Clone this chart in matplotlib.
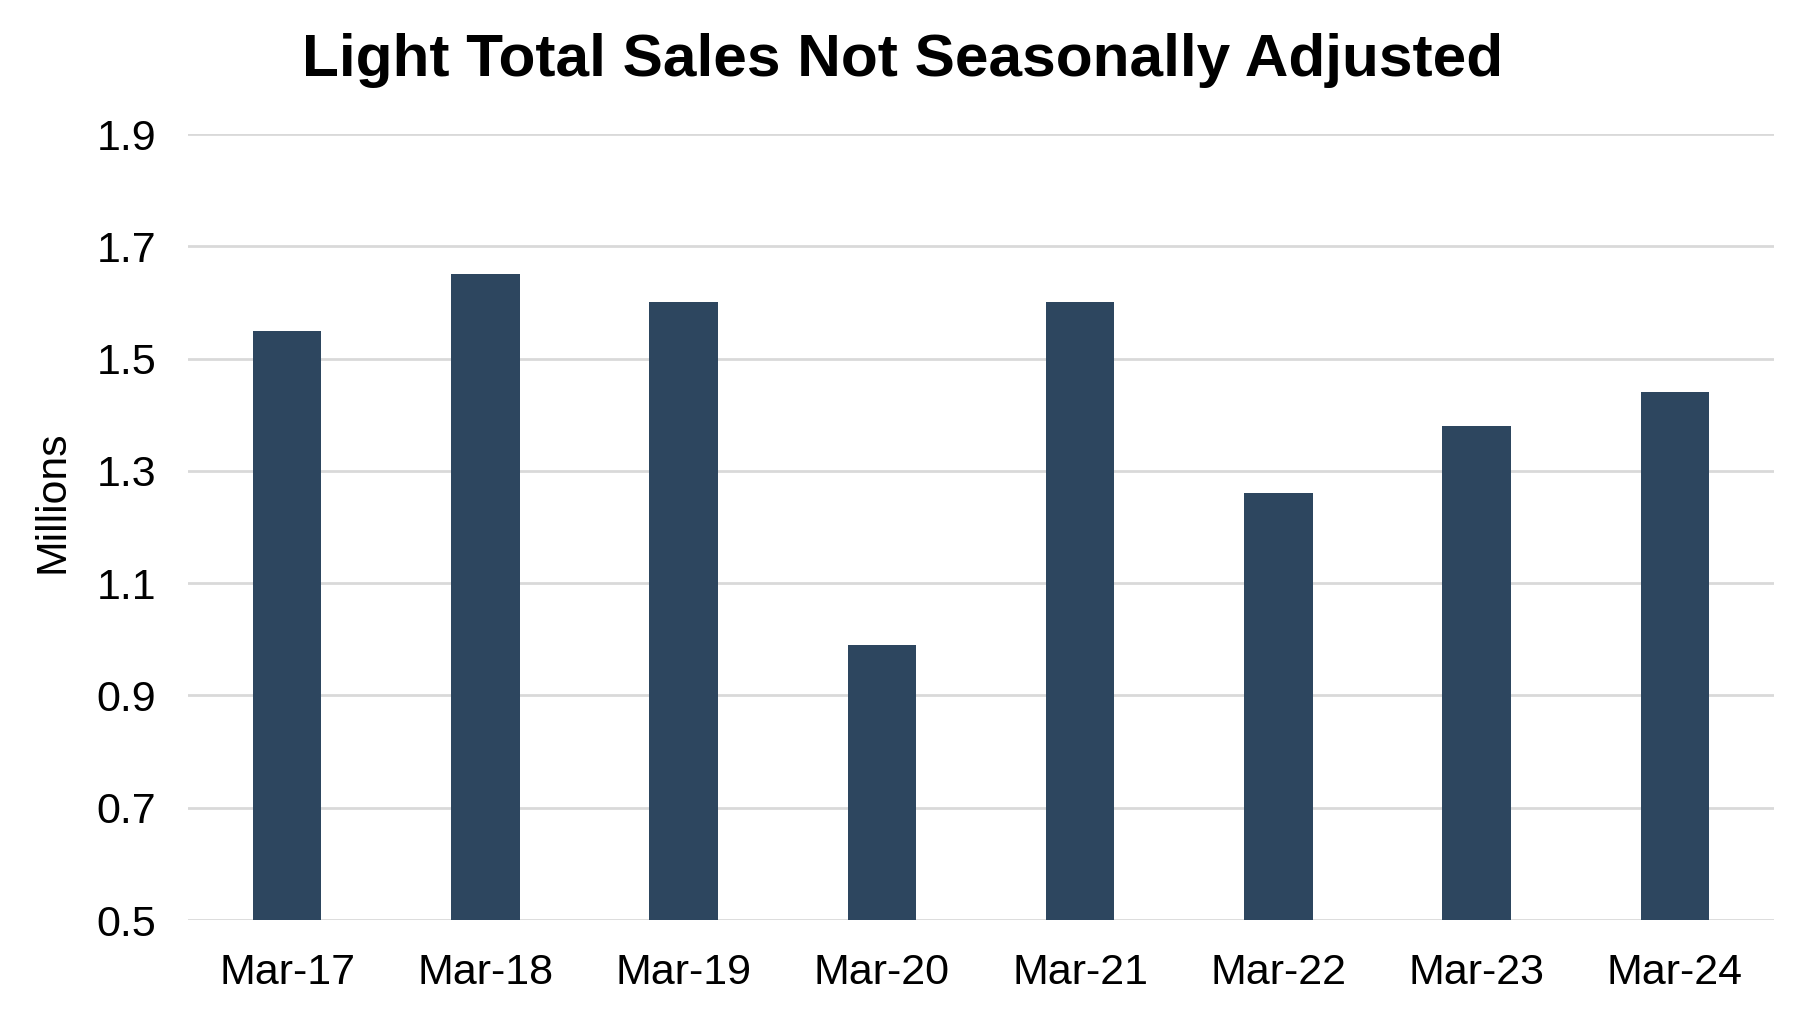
import matplotlib
matplotlib.use("Agg")
import matplotlib.pyplot as plt

categories = ["Mar-17", "Mar-18", "Mar-19", "Mar-20", "Mar-21", "Mar-22", "Mar-23", "Mar-24"]
sales = [1.55, 1.65, 1.60, 0.99, 1.60, 1.26, 1.38, 1.44]
y_ticks = [0.5, 0.7, 0.9, 1.1, 1.3, 1.5, 1.7, 1.9]

plt.rcParams["font.family"] = ["Liberation Sans", "DejaVu Sans"]

fig = plt.figure(figsize=(18.06, 10.13), dpi=100)
ax = fig.add_axes([0.1041, 0.0918, 0.8782, 0.7759])

x = range(len(categories))
ax.bar(x, sales, width=0.345, color="#2d465f", zorder=3)

ax.set_ylim(0.5, 1.9)
ax.set_xlim(-0.5, len(categories) - 0.5)
ax.set_yticks(y_ticks)
ax.set_yticklabels([f"{v:.1f}" for v in y_ticks])
ax.set_xticks(list(x))
ax.set_xticklabels(categories)
ax.yaxis.grid(True, color="#d9d9d9", linewidth=2, zorder=0)
ax.tick_params(axis="both", length=0, labelsize=31)
ax.tick_params(axis="y", pad=23)
ax.tick_params(axis="x", pad=24)
for s in ax.spines.values():
    s.set_visible(False)

ax.set_ylabel("Millions", fontsize=30.8)
ax.yaxis.set_label_coords(-0.073, 0.532)

fig.text(0.5, 0.940, "Light Total Sales Not Seasonally Adjusted",
         ha="center", va="center", fontsize=43.5, fontweight="bold")

fig.savefig("out.png", dpi=100)
